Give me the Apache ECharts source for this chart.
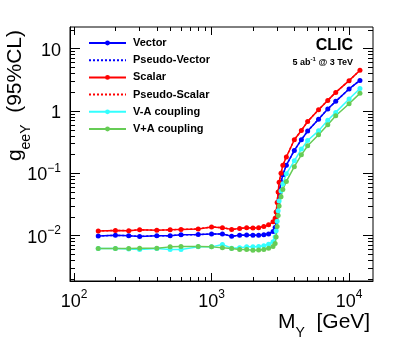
<!DOCTYPE html>
<html>
<head>
<meta charset="utf-8">
<script src="https://cdn.jsdelivr.net/npm/echarts@6/dist/echarts.min.js"></script>
<style>
  html, body { margin: 0; padding: 0; background: #fff; }
  #chart { width: 407px; height: 344px; }
</style>
</head>
<body>
<div id="chart"></div>
<script>
// mass points (GeV)
const massPoints = [150, 200, 250, 300, 400, 500, 600, 800, 1000, 1200, 1400, 1600, 1800, 2000, 2200, 2400, 2600, 2800,
  2900, 2950, 3000, 3050, 3100, 3200, 3300, 3500, 4000, 4500, 5000, 6000, 7000, 8000, 10000, 12000]

// coupling limits at 95% CL
const vector = [0.0099, 0.0101, 0.0100, 0.0097, 0.0100, 0.0100, 0.0103, 0.0104, 0.0106, 0.0106, 0.0098, 0.0101, 0.0102, 0.0101, 0.0101, 0.0103, 0.0106, 0.0117,
  0.0135, 0.017, 0.024, 0.035, 0.050, 0.072, 0.095, 0.135, 0.233, 0.346, 0.476, 0.74, 1.08, 1.43, 2.26, 3.1]
const scalar = [0.0119, 0.0121, 0.0120, 0.0124, 0.0122, 0.0124, 0.0126, 0.0128, 0.0138, 0.0134, 0.0126, 0.0130, 0.0134, 0.0133, 0.0134, 0.0140, 0.0149, 0.0167,
  0.019, 0.024, 0.034, 0.050, 0.072, 0.100, 0.135, 0.183, 0.346, 0.488, 0.68, 1.05, 1.48, 1.99, 3.07, 4.5]
const vMinusA = [0.0062, 0.0062, 0.0061, 0.0060, 0.0062, 0.0060, 0.0060, 0.0066, 0.0066, 0.0072, 0.0063, 0.0064, 0.0066, 0.0066, 0.0067, 0.0069, 0.0073, 0.0080,
  0.0095, 0.012, 0.017, 0.025, 0.036, 0.052, 0.068, 0.098, 0.159, 0.245, 0.336, 0.48, 0.71, 0.95, 1.56, 2.3]
const vPlusA = [0.0062, 0.0062, 0.0062, 0.0063, 0.0063, 0.0066, 0.0067, 0.0067, 0.0066, 0.0064, 0.0062, 0.0060, 0.0060, 0.0058, 0.0059, 0.0060, 0.0063, 0.0067,
  0.0075, 0.0095, 0.014, 0.021, 0.030, 0.042, 0.055, 0.074, 0.128, 0.198, 0.277, 0.416, 0.60, 0.84, 1.31, 1.92]

const majorTicksX = [100, 1000, 10000]
const minorTicksX = [200, 300, 400, 500, 600, 700, 800, 900, 2000, 3000, 4000, 5000, 6000, 7000, 8000, 9000]
const majorTicksY = [0.01, 0.1, 1, 10]
const minorTicksY = [0.002, 0.003, 0.004, 0.005, 0.006, 0.007, 0.008, 0.009,
  0.02, 0.03, 0.04, 0.05, 0.06, 0.07, 0.08, 0.09,
  0.2, 0.3, 0.4, 0.5, 0.6, 0.7, 0.8, 0.9, 2, 3, 4, 5, 6, 7, 8, 9, 20]

const FONT = 'Liberation Sans, Arial, sans-serif'

function pow10Label(v) {
  const e = Math.round(Math.log10(v))
  if (e === 0) return '{b|1}'
  if (e === 1) return '{b|10}'
  return '{b|10}{s|' + (e < 0 ? '\u2212' + (-e) : e) + '}'
}
const powRich = {
  b: { fontSize: 18, fontFamily: FONT, color: '#000', lineHeight: 22, verticalAlign: 'bottom' },
  s: { fontSize: 12, fontFamily: FONT, color: '#000', lineHeight: 22, verticalAlign: 'top' }
}

function xAxisDef(position, ticks, len, labels) {
  return {
    type: 'log', logBase: 10, min: 93.5, max: 14930, position: position,
    axisLine: { show: labels, lineStyle: { color: '#000', width: 1 } },
    axisTick: { show: true, inside: true, length: len, customValues: ticks, lineStyle: { color: '#000', width: 1 } },
    axisLabel: labels ? { show: true, customValues: ticks, formatter: pow10Label, rich: powRich, margin: 8 } : { show: false },
    splitLine: { show: false }
  }
}
function yAxisDef(position, ticks, len, labels) {
  return {
    type: 'log', logBase: 10, min: 0.00187, max: 22.3, position: position,
    axisLine: { show: labels, lineStyle: { color: '#000', width: 1 } },
    axisTick: { show: true, inside: true, length: len, customValues: ticks, lineStyle: { color: '#000', width: 1 } },
    axisLabel: labels ? { show: true, customValues: ticks, formatter: pow10Label, rich: powRich, margin: 9 } : { show: false },
    splitLine: { show: false }
  }
}

function pairs(values) {
  return massPoints.map((m, i) => [m, values[i]])
}

function lineSeries(name, values, color, dotted) {
  return {
    name: name,
    type: 'line',
    xAxisIndex: 0,
    yAxisIndex: 0,
    data: pairs(values),
    symbol: dotted ? 'none' : 'circle',
    symbolSize: 5,
    itemStyle: { color: color },
    lineStyle: { color: color, width: 1.5, type: dotted ? [2, 2] : 'solid' },
    animation: false
  }
}

const chart = echarts.init(document.getElementById('chart'), null, { renderer: 'canvas' })
chart.setOption({
  backgroundColor: '#fff',
  animation: false,
  grid: { left: 70, right: 34, top: 27, bottom: 63, show: true, borderColor: '#000', borderWidth: 1, backgroundColor: 'transparent' },
  xAxis: [
    xAxisDef('bottom', majorTicksX, 8, true),
    xAxisDef('bottom', minorTicksX, 4, false),
    xAxisDef('top', majorTicksX, 8, false),
    xAxisDef('top', minorTicksX, 4, false)
  ],
  yAxis: [
    yAxisDef('left', majorTicksY, 10, true),
    yAxisDef('left', minorTicksY, 5, false),
    yAxisDef('right', majorTicksY, 10, false),
    yAxisDef('right', minorTicksY, 5, false)
  ],
  legend: {
    orient: 'vertical',
    left: 88,
    top: 36,
    padding: 0,
    itemWidth: 37,
    itemHeight: 6,
    itemGap: 3.2,
    textStyle: { fontFamily: FONT, fontWeight: 'bold', fontSize: 11, lineHeight: 14, color: '#000', padding: [0, 0, 0, 2] },
    data: [
      'Vector',
      { name: 'Pseudo-Vector', itemStyle: { opacity: 0 } },
      'Scalar',
      { name: 'Pseudo-Scalar', itemStyle: { opacity: 0 } },
      'V-A coupling',
      'V+A coupling'
    ]
  },
  graphic: [
    {
      type: 'text', right: 54, top: 38,
      style: { text: 'CLIC', font: 'bold 16px ' + FONT, fill: '#000' }
    },
    {
      type: 'text', right: 54, top: 56,
      style: {
        text: '{a|5 ab}{s|-1}{a| @ 3 TeV}',
        rich: {
          a: { font: 'bold 9px ' + FONT, fill: '#000', lineHeight: 11, verticalAlign: 'bottom' },
          s: { font: 'bold 6px ' + FONT, fill: '#000', lineHeight: 11, verticalAlign: 'top' }
        }
      }
    },
    {
      type: 'text', x: 278, y: 312,
      style: {
        text: '{a|M}{s|Y}{a|  [GeV]}',
        rich: {
          a: { font: '21px ' + FONT, fill: '#000', lineHeight: 24, verticalAlign: 'top' },
          s: { font: '14px ' + FONT, fill: '#000', lineHeight: 28, verticalAlign: 'bottom' }
        }
      }
    },
    {
      type: 'text', x: 5, y: 30, rotation: Math.PI / 2,
      style: {
        text: '{a|g}{s|eeY}{a|  (95%CL)}',
        align: 'right',
        verticalAlign: 'top',
        rich: {
          a: { font: '21px ' + FONT, fill: '#000', lineHeight: 24, verticalAlign: 'top' },
          s: { font: '14px ' + FONT, fill: '#000', lineHeight: 28, verticalAlign: 'bottom' }
        }
      }
    }
  ],
  series: [
    lineSeries('Vector', vector, '#0000ff', false),
    lineSeries('Pseudo-Vector', vector, '#0000ff', true),
    lineSeries('Scalar', scalar, '#ff0000', false),
    lineSeries('Pseudo-Scalar', scalar, '#ff0000', true),
    lineSeries('V-A coupling', vMinusA, '#33ffff', false),
    lineSeries('V+A coupling', vPlusA, '#66cc55', false)
  ]
})
</script>
</body>
</html>
